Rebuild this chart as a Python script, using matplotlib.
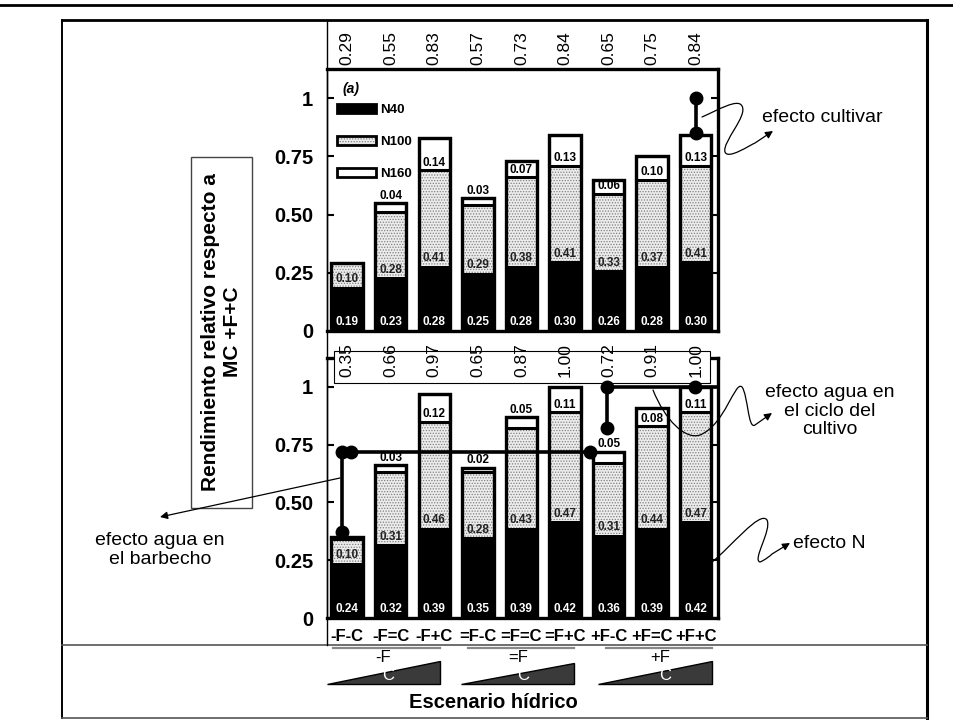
import matplotlib
matplotlib.use('Agg')
import matplotlib.pyplot as plt
import numpy as np
from matplotlib.patches import Rectangle, Polygon, Patch, FancyArrowPatch
from matplotlib.path import Path
from matplotlib.lines import Line2D

plt.rcParams['font.family'] = ['Liberation Sans', 'DejaVu Sans']
plt.rcParams['hatch.linewidth'] = 0.6

escenarios = ['-F-C', '-F=C', '-F+C', '=F-C', '=F=C', '=F+C', '+F-C', '+F=C', '+F+C']

# panel (a)
n40_a = [0.19, 0.23, 0.28, 0.25, 0.28, 0.30, 0.26, 0.28, 0.30]
n100_a = [0.10, 0.28, 0.41, 0.29, 0.38, 0.41, 0.33, 0.37, 0.41]
n160_a = [0.00, 0.04, 0.14, 0.03, 0.07, 0.13, 0.06, 0.10, 0.13]
total_a = [0.29, 0.55, 0.83, 0.57, 0.73, 0.84, 0.65, 0.75, 0.84]

# panel (b)
n40_b = [0.24, 0.32, 0.39, 0.35, 0.39, 0.42, 0.36, 0.39, 0.42]
n100_b = [0.10, 0.31, 0.46, 0.28, 0.43, 0.47, 0.31, 0.44, 0.47]
n160_b = [0.01, 0.03, 0.12, 0.02, 0.05, 0.11, 0.05, 0.08, 0.11]
total_b = [0.35, 0.66, 0.97, 0.65, 0.87, 1.00, 0.72, 0.91, 1.00]

yticks = [0, 0.25, 0.5, 0.75, 1]
ytick_labels = ['0', '0.25', '0.50', '0.75', '1']

# effect markers (x = scenario index, y = relative yield)
cultivar_x = [8, 8]
cultivar_y = [0.85, 1.0]
barbecho_x = [-0.11, -0.11, 5.57]
barbecho_y = [0.37, 0.72, 0.72]
barbecho_dots_x = [-0.11, -0.11, 0.09, 5.57]
barbecho_dots_y = [0.37, 0.72, 0.72, 0.72]
ciclo_x = [5.97, 5.97, 8.6]
ciclo_y = [0.82, 1.0, 1.0]
ciclo_dots_x = [5.97, 5.97, 7.98]
ciclo_dots_y = [0.82, 1.0, 1.0]

grupos = ['-F', '=F', '+F']

W, H = 954, 720


def fpt(x, y):
    return (x / W, 1 - y / H)


fig = plt.figure(figsize=(W / 100, H / 100), dpi=100)


def fline(xs, ys, **kw):
    fig.add_artist(Line2D([x / W for x in xs], [1 - y / H for y in ys],
                          transform=fig.transFigure, **kw))


ax_a = fig.add_axes([327 / W, 1 - 331 / H, 391 / W, 262 / H])
ax_b = fig.add_axes([327 / W, 1 - 618 / H, 391 / W, 260 / H])

BW = 0.72
STIP_FC = '#ececec'
STIP_EC = '#808080'


def draw_panel(ax, n40, n100, n160, total):
    x = np.arange(len(n40))
    n40 = np.array(n40)
    n100 = np.array(n100)
    n160 = np.array(n160)
    base2 = n40 + n100
    ax.bar(x, n40, width=BW, color='black', edgecolor='black', linewidth=0.8, zorder=2)
    ax.bar(x, n100, bottom=n40, width=BW, color=STIP_FC, edgecolor=STIP_EC,
           hatch='......', linewidth=0, zorder=2)
    ax.bar(x, n160, bottom=base2, width=BW, color='white', edgecolor='black',
           linewidth=2.2, zorder=3)
    ax.bar(x, total, width=BW, fill=False, edgecolor='black', linewidth=2.4, zorder=4)
    for i in range(len(x)):
        ax.text(x[i], 0.012, f'{n40[i]:.2f}', color='white', ha='center', va='bottom',
                fontsize=8.5, fontweight='bold', zorder=5)
        ax.text(x[i], n40[i] + 0.006, f'{n100[i]:.2f}', color='#222222', ha='center',
                va='bottom', fontsize=8.5, fontweight='bold', zorder=5)
        if n160[i] >= 0.06:
            ax.text(x[i], base2[i] + 0.006, f'{n160[i]:.2f}', ha='center', va='bottom',
                    fontsize=8.5, fontweight='bold', zorder=5)
        elif n160[i] >= 0.02:
            ax.text(x[i], total[i] + 0.006, f'{n160[i]:.2f}', ha='center', va='bottom',
                    fontsize=8.5, fontweight='bold', zorder=5)

    ax.set_xlim(-0.46, 8.51)
    ax.set_ylim(0, 1.125)
    ax.set_yticks(yticks)
    ax.set_yticklabels(ytick_labels, fontweight='bold')
    ax.tick_params(axis='y', direction='in', length=5, width=1.5, right=True,
                   labelsize=14.5, pad=10)
    for s in ['top', 'right', 'bottom']:
        ax.spines[s].set_linewidth(2.4)
    ax.spines['left'].set_linewidth(1.0)


draw_panel(ax_a, n40_a, n100_a, n160_a, total_a)
draw_panel(ax_b, n40_b, n100_b, n160_b, total_b)

ax_a.tick_params(axis='x', length=0, labelbottom=False)
ax_b.set_xticks(range(len(escenarios)))
ax_b.set_xticklabels(escenarios, fontweight='bold')
ax_b.tick_params(axis='x', length=0, labelsize=12, pad=8)

# totals above the panels
for i, t in enumerate(total_a):
    ax_a.text(i, 1.0 + 4 / 262, f'{t:.2f}', transform=ax_a.get_xaxis_transform(),
              rotation=90, ha='center', va='bottom', fontsize=12.5, clip_on=False)
ax_b.add_patch(Rectangle((0.018, 0.904), 0.962, 0.123, transform=ax_b.transAxes,
                         facecolor='white', edgecolor='black', linewidth=0.8,
                         clip_on=False, zorder=6))
for i, t in enumerate(total_b):
    ax_b.text(i, 0.927, f'{t:.2f}', transform=ax_b.get_xaxis_transform(),
              rotation=90, ha='center', va='bottom', fontsize=12.5, clip_on=False, zorder=7)

# legend
ax_a.text(0.04, 0.925, '(a)', transform=ax_a.transAxes, fontsize=10,
          fontweight='bold', style='italic', va='center')
handles = [Patch(facecolor='black', edgecolor='black', linewidth=2),
           (Patch(facecolor=STIP_FC, edgecolor=STIP_EC, hatch='......', linewidth=0),
            Patch(fill=False, edgecolor='black', linewidth=2)),
           Patch(facecolor='white', edgecolor='black', linewidth=2)]
leg = ax_a.legend(handles, ['N40', 'N100', 'N160'], loc='upper left',
                  bbox_to_anchor=(0.025, 0.866), frameon=False, borderpad=0,
                  borderaxespad=0, handlelength=3.0, handleheight=0.7,
                  handletextpad=0.3, labelspacing=1.5,
                  prop={'weight': 'bold', 'size': 9.5})
leg.set_zorder(10)

# effect lines
ax_a.plot(cultivar_x, cultivar_y, color='black', lw=2.6, zorder=8, clip_on=False)
ax_a.plot(cultivar_x, cultivar_y, 'o', color='black', ms=9, zorder=8, clip_on=False)
ax_b.plot(barbecho_x, barbecho_y, color='black', lw=2.6, zorder=8)
ax_b.plot(barbecho_dots_x, barbecho_dots_y, 'o', color='black', ms=9, zorder=8)
ax_b.plot(ciclo_x, ciclo_y, color='black', lw=2.6, zorder=8)
ax_b.plot(ciclo_dots_x, ciclo_dots_y, 'o', color='black', ms=9, zorder=8)

# frame
fline([0, W], [5, 5], color='black', lw=2)
fline([62, 927], [20, 20], color='black', lw=2)
fline([927, 927], [20, 718], color='black', lw=2.2)
fline([62, 62], [20, 718], color='black', lw=1.4)
fline([62, 927], [718, 718], color='#555555', lw=1.2)
fline([62, 927], [645, 645], color='#555555', lw=1.2)
fline([327, 327], [20, 645], color='black', lw=1.0)
for x0, x1 in [(333, 440), (468, 574), (606, 712)]:
    fline([x0, x1], [648, 648], color='#888888', lw=1.6)

# scenario triangles
tri = [(327, 440, 661), (461, 574, 663), (598, 712, 661)]
lab_x = [383, 518, 660]
for (x0, x1, ytop), g, lx in zip(tri, grupos, lab_x):
    fig.add_artist(Polygon([fpt(x0, 684), fpt(x1, 684), fpt(x1, ytop)], closed=True,
                           transform=fig.transFigure, facecolor='#3a3a3a',
                           edgecolor='black', linewidth=1))
    fig.text(*fpt(lx, 657), g, ha='center', va='center', fontsize=12)
    fig.text(*fpt(lx + 5, 675), 'C', ha='center', va='center', fontsize=12, color='white')

fig.text(*fpt(493, 702), 'Escenario hídrico', ha='center', va='center',
         fontsize=14.5, fontweight='bold')

# y label box
fig.add_artist(Rectangle(fpt(191, 508), 61 / W, 351 / H, transform=fig.transFigure,
                         fill=False, edgecolor='#444444', linewidth=1))
fig.text(*fpt(221, 332), 'Rendimiento relativo respecto a\nMC +F+C', rotation=90,
         ha='center', va='center', fontsize=15, fontweight='bold', linespacing=1.2)

# annotations
fig.text(*fpt(762, 118), 'efecto cultivar', ha='left', va='center', fontsize=14)
fig.text(*fpt(830, 411), 'efecto agua en\nel ciclo del\ncultivo', ha='center',
         va='center', fontsize=14, linespacing=1.15)
fig.text(*fpt(793, 543), 'efecto N', ha='left', va='center', fontsize=14)
fig.text(*fpt(160, 550), 'efecto agua en\nel barbecho', ha='center', va='center',
         fontsize=14, linespacing=1.15)


def squiggle(pts):
    codes = [Path.MOVETO] + [Path.CURVE4] * (len(pts) - 2) + [Path.LINETO]
    path = Path([fpt(x, y) for x, y in pts], codes)
    fig.add_artist(FancyArrowPatch(path=path, arrowstyle='-|>', mutation_scale=11,
                                   linewidth=0.9, color='black',
                                   transform=fig.transFigure))


squiggle([(702, 117), (718, 110), (738, 98), (742, 106),
          (748, 116), (722, 142), (725, 152),
          (728, 160), (750, 145), (755, 143),
          (773, 131)])
squiggle([(653, 390), (665, 420), (685, 440), (700, 435),
          (725, 425), (735, 380), (742, 387),
          (748, 395), (748, 430), (755, 425),
          (772, 413)])
squiggle([(712, 562), (730, 548), (760, 510), (767, 520),
          (772, 530), (752, 560), (760, 562),
          (765, 560), (770, 556), (772, 554),
          (790, 543)])
fig.add_artist(FancyArrowPatch(fpt(340, 478), fpt(160, 517), arrowstyle='-|>',
                               mutation_scale=11, linewidth=0.9, color='black',
                               transform=fig.transFigure, shrinkA=0, shrinkB=0))

fig.savefig('out.png', dpi=100)
